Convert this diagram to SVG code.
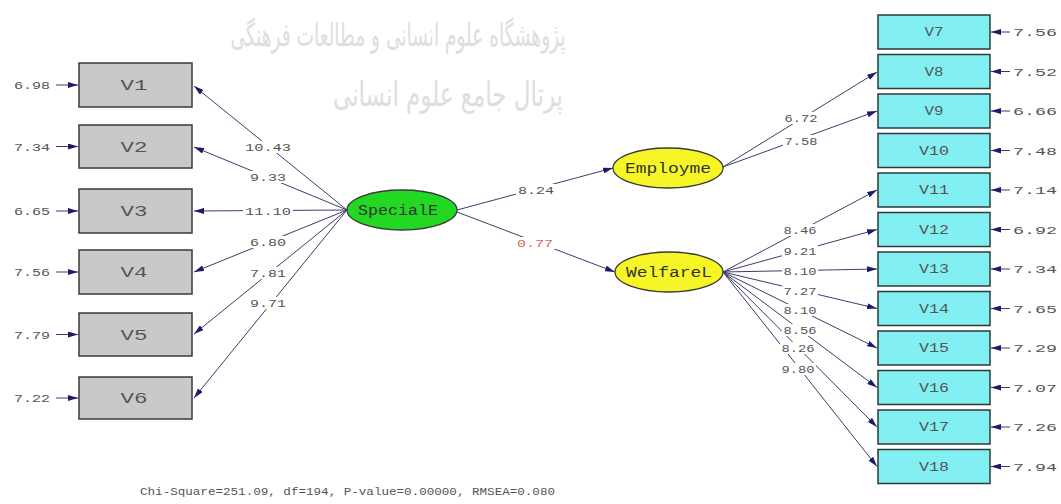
<svg xmlns="http://www.w3.org/2000/svg" width="1061" height="504" viewBox="0 0 1061 504">
<style>
.obsL{fill:#c9c9c9;stroke:#3a3a3a;stroke-width:1.5}
.obsR{fill:#82eff2;stroke:#2e3a3a;stroke-width:1.5}
.lat{stroke:#3a3a3a;stroke-width:1.3}
.ln{stroke:#3c3c6c;stroke-width:1;fill:none}
.t{font-family:"Liberation Mono","DejaVu Sans Mono",monospace;fill:#555}
.num{font-size:11px}
.bg{fill:#fff}
.err{font-size:11px}
.vl{font-size:15px;fill:#555}
.vr{font-size:12px;fill:#555}
.lv{font-size:14px;fill:#333}
.wm{font-family:"DejaVu Sans",sans-serif;fill:#dedede}
</style>
<defs>
<marker id="ah" markerUnits="userSpaceOnUse" markerWidth="10" markerHeight="6" refX="10" refY="3" orient="auto">
<path d="M0,0 L10,3 L0,6 z" fill="#1c1c6c"/>
</marker>
</defs>
<rect width="1061" height="504" fill="#fff"/>
<g id="watermark">
<text class="wm" x="398" y="46" font-size="32" text-anchor="middle" direction="rtl" textLength="335" lengthAdjust="spacingAndGlyphs">پژوهشگاه علوم انسانی و مطالعات فرهنگی</text>
<text class="wm" x="448" y="106" font-size="34" text-anchor="middle" direction="rtl" textLength="230" lengthAdjust="spacingAndGlyphs">پرتال جامع علوم انسانی</text>
</g>
<g id="connectors">
<path class="ln" d="M347,210 L194,86" marker-end="url(#ah)"/>
<path class="ln" d="M347,210 L194,147" marker-end="url(#ah)"/>
<path class="ln" d="M347,210 L194,211" marker-end="url(#ah)"/>
<path class="ln" d="M347,210 L194,272" marker-end="url(#ah)"/>
<path class="ln" d="M347,210 L194,334" marker-end="url(#ah)"/>
<path class="ln" d="M347,210 L194,398" marker-end="url(#ah)"/>
<path class="ln" d="M457,210 L613,168" marker-end="url(#ah)"/>
<path class="ln" d="M457,212 L615,272" marker-end="url(#ah)"/>
<path class="ln" d="M723,167 L877,72" marker-end="url(#ah)"/>
<path class="ln" d="M723,167 L877,111" marker-end="url(#ah)"/>
<path class="ln" d="M723,272 L877,190" marker-end="url(#ah)"/>
<path class="ln" d="M723,272 L877,229.5" marker-end="url(#ah)"/>
<path class="ln" d="M723,272 L877,269" marker-end="url(#ah)"/>
<path class="ln" d="M723,272 L877,308.5" marker-end="url(#ah)"/>
<path class="ln" d="M723,272 L877,348" marker-end="url(#ah)"/>
<path class="ln" d="M723,272 L877,387.5" marker-end="url(#ah)"/>
<path class="ln" d="M723,272 L877,427" marker-end="url(#ah)"/>
<path class="ln" d="M723,272 L877,466.5" marker-end="url(#ah)"/>
<path class="ln" d="M56,85 L78,85" marker-end="url(#ah)"/>
<path class="ln" d="M56,146.5 L78,146.5" marker-end="url(#ah)"/>
<path class="ln" d="M56,211 L78,211" marker-end="url(#ah)"/>
<path class="ln" d="M56,272 L78,272" marker-end="url(#ah)"/>
<path class="ln" d="M56,334.5 L78,334.5" marker-end="url(#ah)"/>
<path class="ln" d="M56,398 L78,398" marker-end="url(#ah)"/>
<path class="ln" d="M1010,32 L991,32" marker-end="url(#ah)"/>
<path class="ln" d="M1010,71.5 L991,71.5" marker-end="url(#ah)"/>
<path class="ln" d="M1010,111 L991,111" marker-end="url(#ah)"/>
<path class="ln" d="M1010,150.5 L991,150.5" marker-end="url(#ah)"/>
<path class="ln" d="M1010,190 L991,190" marker-end="url(#ah)"/>
<path class="ln" d="M1010,229.5 L991,229.5" marker-end="url(#ah)"/>
<path class="ln" d="M1010,269 L991,269" marker-end="url(#ah)"/>
<path class="ln" d="M1010,308.5 L991,308.5" marker-end="url(#ah)"/>
<path class="ln" d="M1010,348 L991,348" marker-end="url(#ah)"/>
<path class="ln" d="M1010,387.5 L991,387.5" marker-end="url(#ah)"/>
<path class="ln" d="M1010,427 L991,427" marker-end="url(#ah)"/>
<path class="ln" d="M1010,466.5 L991,466.5" marker-end="url(#ah)"/>
<g class="bg">
<rect x="243" y="141" width="50" height="12"/>
<rect x="248" y="171" width="40" height="12"/>
<rect x="243" y="205" width="50" height="12"/>
<rect x="248" y="236" width="40" height="12"/>
<rect x="248" y="267" width="40" height="12"/>
<rect x="248" y="297" width="40" height="12"/>
<rect x="516" y="184" width="40" height="12"/>
<rect x="515" y="237" width="40" height="12"/>
<rect x="783" y="112" width="36" height="12"/>
<rect x="783" y="135" width="36" height="12"/>
<rect x="782" y="224" width="36" height="12"/>
<rect x="782" y="245" width="36" height="12"/>
<rect x="782" y="265" width="36" height="12"/>
<rect x="782" y="285" width="36" height="12"/>
<rect x="782" y="304" width="36" height="12"/>
<rect x="782" y="324" width="36" height="12"/>
<rect x="780" y="342" width="36" height="12"/>
<rect x="780" y="363" width="36" height="12"/>
</g>
<g class="t num" text-anchor="middle">
<text x="268" y="151" textLength="46" lengthAdjust="spacingAndGlyphs">10.43</text>
<text x="268" y="181" textLength="36" lengthAdjust="spacingAndGlyphs">9.33</text>
<text x="268" y="215" textLength="46" lengthAdjust="spacingAndGlyphs">11.10</text>
<text x="268" y="246" textLength="36" lengthAdjust="spacingAndGlyphs">6.80</text>
<text x="268" y="277" textLength="36" lengthAdjust="spacingAndGlyphs">7.81</text>
<text x="268" y="307" textLength="36" lengthAdjust="spacingAndGlyphs">9.71</text>
<text x="536" y="194" textLength="36" lengthAdjust="spacingAndGlyphs">8.24</text>
<text x="535" y="247" textLength="36" lengthAdjust="spacingAndGlyphs" style="fill:#d46a6a">0.77</text>
<text x="801" y="122" textLength="33" lengthAdjust="spacingAndGlyphs">6.72</text>
<text x="801" y="145" textLength="33" lengthAdjust="spacingAndGlyphs">7.58</text>
<text x="800" y="234" textLength="33" lengthAdjust="spacingAndGlyphs">8.46</text>
<text x="800" y="255" textLength="33" lengthAdjust="spacingAndGlyphs">9.21</text>
<text x="800" y="275" textLength="33" lengthAdjust="spacingAndGlyphs">8.10</text>
<text x="800" y="295" textLength="33" lengthAdjust="spacingAndGlyphs">7.27</text>
<text x="800" y="314" textLength="33" lengthAdjust="spacingAndGlyphs">8.10</text>
<text x="800" y="334" textLength="33" lengthAdjust="spacingAndGlyphs">8.56</text>
<text x="798" y="352" textLength="33" lengthAdjust="spacingAndGlyphs">8.26</text>
<text x="798" y="373" textLength="33" lengthAdjust="spacingAndGlyphs">9.80</text>
</g>
</g>
<g class="t err">
<text x="50" y="89" text-anchor="end" textLength="36" lengthAdjust="spacingAndGlyphs">6.98</text>
<text x="50" y="150.5" text-anchor="end" textLength="36" lengthAdjust="spacingAndGlyphs">7.34</text>
<text x="50" y="215" text-anchor="end" textLength="36" lengthAdjust="spacingAndGlyphs">6.65</text>
<text x="50" y="276" text-anchor="end" textLength="36" lengthAdjust="spacingAndGlyphs">7.56</text>
<text x="50" y="338.5" text-anchor="end" textLength="36" lengthAdjust="spacingAndGlyphs">7.79</text>
<text x="50" y="402" text-anchor="end" textLength="36" lengthAdjust="spacingAndGlyphs">7.22</text>
<text x="1013" y="36" textLength="44" lengthAdjust="spacingAndGlyphs">7.56</text>
<text x="1013" y="75.5" textLength="44" lengthAdjust="spacingAndGlyphs">7.52</text>
<text x="1013" y="115" textLength="44" lengthAdjust="spacingAndGlyphs">6.66</text>
<text x="1013" y="154.5" textLength="44" lengthAdjust="spacingAndGlyphs">7.48</text>
<text x="1013" y="194" textLength="44" lengthAdjust="spacingAndGlyphs">7.14</text>
<text x="1013" y="233.5" textLength="44" lengthAdjust="spacingAndGlyphs">6.92</text>
<text x="1013" y="273" textLength="44" lengthAdjust="spacingAndGlyphs">7.34</text>
<text x="1013" y="312.5" textLength="44" lengthAdjust="spacingAndGlyphs">7.65</text>
<text x="1013" y="352" textLength="44" lengthAdjust="spacingAndGlyphs">7.29</text>
<text x="1013" y="391.5" textLength="44" lengthAdjust="spacingAndGlyphs">7.07</text>
<text x="1013" y="431" textLength="44" lengthAdjust="spacingAndGlyphs">7.26</text>
<text x="1013" y="470.5" textLength="44" lengthAdjust="spacingAndGlyphs">7.94</text>
</g>
<g id="V1"><rect class="obsL" x="79" y="63" width="113" height="44"/><text class="t vl" x="134" y="90" text-anchor="middle" textLength="27" lengthAdjust="spacingAndGlyphs">V1</text></g>
<g id="V2"><rect class="obsL" x="79" y="125" width="113" height="43"/><text class="t vl" x="134" y="151.5" text-anchor="middle" textLength="27" lengthAdjust="spacingAndGlyphs">V2</text></g>
<g id="V3"><rect class="obsL" x="79" y="189" width="113" height="44"/><text class="t vl" x="134" y="216" text-anchor="middle" textLength="27" lengthAdjust="spacingAndGlyphs">V3</text></g>
<g id="V4"><rect class="obsL" x="79" y="250" width="113" height="44"/><text class="t vl" x="134" y="277" text-anchor="middle" textLength="27" lengthAdjust="spacingAndGlyphs">V4</text></g>
<g id="V5"><rect class="obsL" x="79" y="313" width="113" height="43"/><text class="t vl" x="134" y="339.5" text-anchor="middle" textLength="27" lengthAdjust="spacingAndGlyphs">V5</text></g>
<g id="V6"><rect class="obsL" x="79" y="377" width="113" height="42"/><text class="t vl" x="134" y="403" text-anchor="middle" textLength="27" lengthAdjust="spacingAndGlyphs">V6</text></g>
<g id="V7"><rect class="obsR" x="878" y="15" width="112" height="34"/><text class="t vr" x="934" y="36" text-anchor="middle" textLength="19" lengthAdjust="spacingAndGlyphs">V7</text></g>
<g id="V8"><rect class="obsR" x="878" y="54.5" width="112" height="34"/><text class="t vr" x="934" y="75.5" text-anchor="middle" textLength="19" lengthAdjust="spacingAndGlyphs">V8</text></g>
<g id="V9"><rect class="obsR" x="878" y="94" width="112" height="34"/><text class="t vr" x="934" y="115" text-anchor="middle" textLength="19" lengthAdjust="spacingAndGlyphs">V9</text></g>
<g id="V10"><rect class="obsR" x="878" y="133.5" width="112" height="34"/><text class="t vr" x="934" y="154.5" text-anchor="middle" textLength="30" lengthAdjust="spacingAndGlyphs">V10</text></g>
<g id="V11"><rect class="obsR" x="878" y="173" width="112" height="34"/><text class="t vr" x="934" y="194" text-anchor="middle" textLength="30" lengthAdjust="spacingAndGlyphs">V11</text></g>
<g id="V12"><rect class="obsR" x="878" y="212.5" width="112" height="34"/><text class="t vr" x="934" y="233.5" text-anchor="middle" textLength="30" lengthAdjust="spacingAndGlyphs">V12</text></g>
<g id="V13"><rect class="obsR" x="878" y="252" width="112" height="34"/><text class="t vr" x="934" y="273" text-anchor="middle" textLength="30" lengthAdjust="spacingAndGlyphs">V13</text></g>
<g id="V14"><rect class="obsR" x="878" y="291.5" width="112" height="34"/><text class="t vr" x="934" y="312.5" text-anchor="middle" textLength="30" lengthAdjust="spacingAndGlyphs">V14</text></g>
<g id="V15"><rect class="obsR" x="878" y="331" width="112" height="34"/><text class="t vr" x="934" y="352" text-anchor="middle" textLength="30" lengthAdjust="spacingAndGlyphs">V15</text></g>
<g id="V16"><rect class="obsR" x="878" y="370.5" width="112" height="34"/><text class="t vr" x="934" y="391.5" text-anchor="middle" textLength="30" lengthAdjust="spacingAndGlyphs">V16</text></g>
<g id="V17"><rect class="obsR" x="878" y="410" width="112" height="34"/><text class="t vr" x="934" y="431" text-anchor="middle" textLength="30" lengthAdjust="spacingAndGlyphs">V17</text></g>
<g id="V18"><rect class="obsR" x="878" y="449.5" width="112" height="34"/><text class="t vr" x="934" y="470.5" text-anchor="middle" textLength="30" lengthAdjust="spacingAndGlyphs">V18</text></g>
<g id="SpecialE"><ellipse class="lat" cx="402" cy="210" rx="55" ry="20" fill="#22d822"/><text class="t lv" x="398" y="215" text-anchor="middle" textLength="80" lengthAdjust="spacingAndGlyphs">SpecialE</text></g>
<g id="Employme"><ellipse class="lat" cx="668" cy="168" rx="55" ry="20" fill="#f6f626"/><text class="t lv" x="668" y="173" text-anchor="middle" textLength="86" lengthAdjust="spacingAndGlyphs">Employme</text></g>
<g id="WelfareL"><ellipse class="lat" cx="669" cy="272" rx="54" ry="20" fill="#f6f626"/><text class="t lv" x="669" y="277" text-anchor="middle" textLength="86" lengthAdjust="spacingAndGlyphs">WelfareL</text></g>
<text class="t" x="140" y="495" font-size="10" fill="#444" textLength="415" lengthAdjust="spacingAndGlyphs">Chi-Square=251.09, df=194, P-value=0.00000, RMSEA=0.080</text>
</svg>
